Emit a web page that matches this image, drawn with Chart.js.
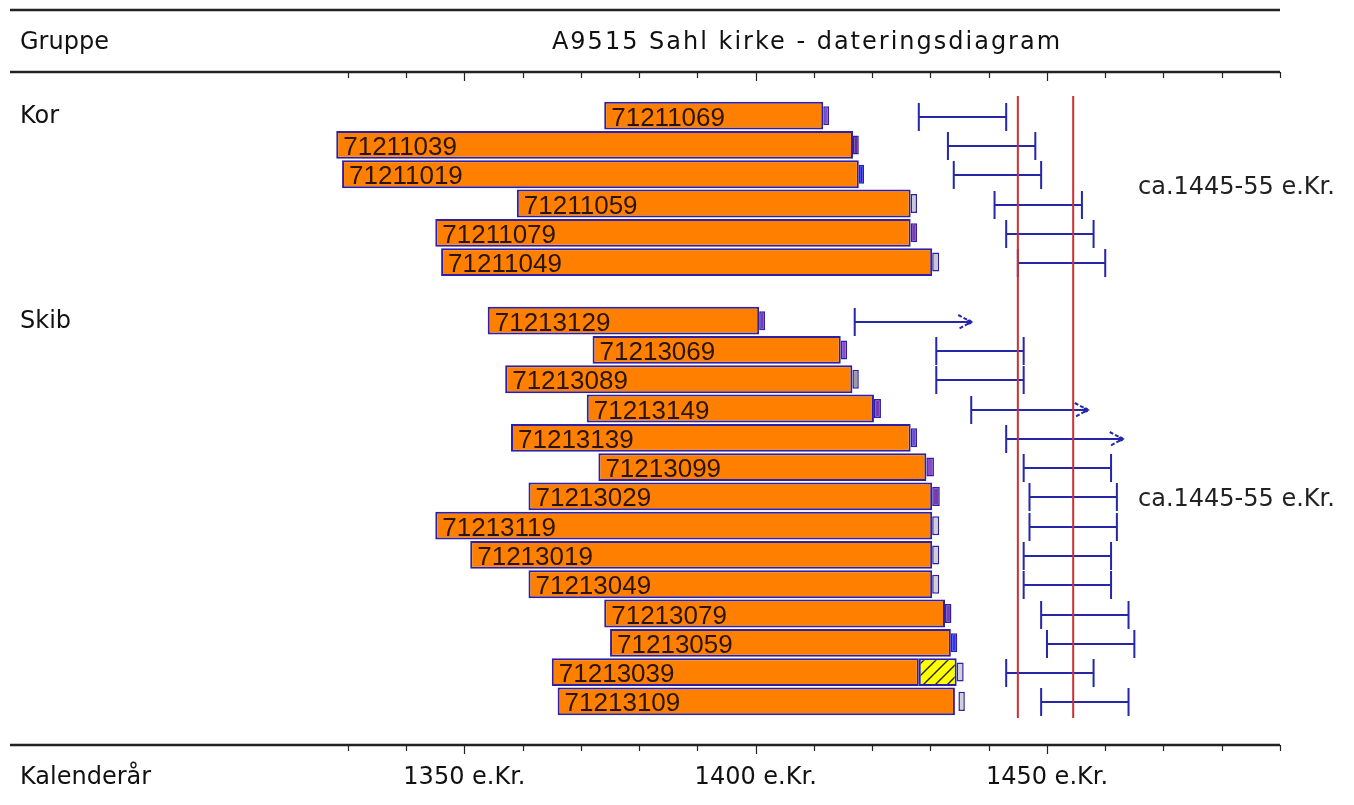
<!DOCTYPE html>
<html lang="da">
<head>
<meta charset="utf-8">
<title>A9515 Sahl kirke - dateringsdiagram</title>
<script src="https://cdn.jsdelivr.net/npm/chart.js@4.4.1/dist/chart.umd.min.js"></script>
<style>
  html, body { margin: 0; padding: 0; background: #fff; }
  #wrap { width: 1354px; height: 805px; position: relative; }
</style>
</head>
<body>
<div id="wrap"><canvas id="chart" width="1354" height="805"></canvas></div>
<script>
/* ═══════════════════════════════════════════════
   DATA  —  one row per sample, '' = gap between groups
═══════════════════════════════════════════════ */
const samples = [
  '71211069', '71211039', '71211019', '71211059', '71211079', '71211049',
  '',
  '71213129', '71213069', '71213089', '71213149', '71213139', '71213099', '71213029',
  '71213119', '71213019', '71213049', '71213079', '71213059', '71213039', '71213109'
];

/* first and last measured year (orange bar) */
const firstYear = [1374, 1328, 1329, 1359, 1345, 1346, null,
  1354, 1372, 1357, 1371, 1358, 1373, 1361, 1345, 1351, 1361, 1374, 1375, 1365, 1366];
const lastYear  = [1411.6, 1416.7, 1417.7, 1426.6, 1426.6, 1430.3, null,
  1400.6, 1414.6, 1416.6, 1420.3, 1426.6, 1429.3, 1430.3, 1430.3, 1430.3, 1430.3,
  1432.5, 1433.5, 1428, 1434.2];

/* estimated (hatched) rings after last measured year */
const estFrom = [null, null, null, null, null, null, null,
  null, null, null, null, null, null, null, null, null, null, null, null, 1428, null];
const estTo   = [null, null, null, null, null, null, null,
  null, null, null, null, null, null, null, null, null, null, null, null, 1434.5, null];

/* end marker (small box after the bar) */
const markFrom = [1411.6, 1416.7, 1417.7, 1426.6, 1426.6, 1430.3, null,
  1400.6, 1414.6, 1416.6, 1420.3, 1426.6, 1429.3, 1430.3, 1430.3, 1430.3, 1430.3,
  1432.5, 1433.5, 1434.5, 1434.8];
const markTo   = [1412.6, 1417.7, 1418.6, 1427.7, 1427.7, 1431.5, null,
  1401.6, 1415.7, 1417.7, 1421.5, 1427.7, 1430.6, 1431.6, 1431.5, 1431.5, 1431.5,
  1433.6, 1434.6, 1435.7, 1435.9];

/* felling date interval; open = only a lower limit (arrow) */
const fellFrom = [1428, 1433, 1434, 1441, 1443, 1445, null,
  1417, 1431, 1431, 1437, 1443, 1446, 1447, 1447, 1446, 1446, 1449, 1450, 1443, 1449];
const fellTo   = [1443, 1448, 1449, 1456, 1458, 1460, null,
  1437, 1446, 1446, 1457, 1463, 1461, 1462, 1462, 1461, 1461, 1464, 1465, 1458, 1464];
const fellOpen = [false, false, false, false, false, false, false,
  true, false, false, true, true, false, false, false, false, false, false, false, false, false];

/* groups */
const groupNames  = ['Kor', 'Skib'];
const groupFirst  = [0, 7];
const groupDating = ['ca.1445-55 e.Kr.', 'ca.1445-55 e.Kr.'];

/* dating lines */
const datingLines = [1445, 1454.5];

/* axis */
const tickYears  = [1330, 1340, 1350, 1360, 1370, 1380, 1390, 1400, 1410,
  1420, 1430, 1440, 1450, 1460, 1470, 1480, 1490];
const labelYears = [1350, 1400, 1450];
const labelTexts = ['1350 e.Kr.', '1400 e.Kr.', '1450 e.Kr.'];

/* ── STYLE ── */
const ORANGE = '#ff8000';
const EDGE   = '#2c1fa8';
const RANGE  = '#2626a8';
const RED    = '#cc3030';
const HEAD   = '24px "DejaVu Sans"';
const markColors = ['#8a4cc8', '#6a2a90', '#1a1aff', '#c8c8d4', '#7a3ab0', '#c8c8d4', null,
  '#7a3ab0', '#8a4cc8', '#9a9aa8', '#7a3ab0', '#6a4ad0', '#8a4cc8', '#7a3ab0',
  '#d0d0d8', '#d0d0d8', '#d0d0d8', '#7a3ab0', '#3030ff', '#d0d0d8', '#d0d0d8'];

/* hatch pattern for estimated rings */
function hatchPattern() {
  const c = document.createElement('canvas');
  c.width = 12; c.height = 12;
  const g = c.getContext('2d');
  g.fillStyle = '#ffff00';
  g.fillRect(0, 0, 12, 12);
  g.strokeStyle = '#222';
  g.lineWidth = 1.4;
  g.beginPath();
  g.moveTo(0, 12); g.lineTo(12, 0);
  g.moveTo(-6, 6); g.lineTo(6, -6);
  g.moveTo(6, 18); g.lineTo(18, 6);
  g.stroke();
  return g.createPattern(c, 'repeat');
}

const pairs = (a, b) => a.map((v, i) => (v == null ? null : [v, b[i]]));

/* ═══════════════════════════════════════════════
   DRAWING PLUGIN  —  rules, texts, ranges
═══════════════════════════════════════════════ */
const diagram = {
  id: 'diagram',
  beforeDatasetsDraw(chart) {
    const ctx = chart.ctx;
    const x = chart.scales.x, y = chart.scales.y;
    const left = x.left, right = x.right;

    ctx.save();
    /* rules */
    [10, 72, 745].forEach(ry => {
      ctx.strokeStyle = '#222';
      ctx.lineWidth = 2.5;
      ctx.beginPath(); ctx.moveTo(left, ry); ctx.lineTo(right, ry); ctx.stroke();
    });
    /* ticks */
    ctx.lineWidth = 1.2;
    [72, 745].forEach(ry => {
      tickYears.forEach(t => {
        const px = Math.round(x.getPixelForValue(t)) + 0.5;
        const len = labelYears.includes(t) ? 9 : 6;
        ctx.beginPath(); ctx.moveTo(px, ry); ctx.lineTo(px, ry + len); ctx.stroke();
      });
    });

    /* header / footer texts */
    ctx.fillStyle = '#111';
    ctx.font = HEAD;
    ctx.textBaseline = 'middle';
    ctx.textAlign = 'left';
    ctx.fillText('Gruppe', 20, 43);
    ctx.fillText('Kalenderår', 20, 778);
    ctx.textAlign = 'center';
    labelYears.forEach((t, i) => ctx.fillText(labelTexts[i], x.getPixelForValue(t), 778));
    ctx.letterSpacing = '2px';
    ctx.fillText('A9515 Sahl kirke - dateringsdiagram', 807, 43);
    ctx.letterSpacing = '0px';

    /* group names + dating */
    ctx.textAlign = 'left';
    groupNames.forEach((g, i) => ctx.fillText(g, 20, y.getPixelForValue(groupFirst[i]) + 1));
    ctx.font = '24px "DejaVu Sans"';
    ctx.fillStyle = '#222';
    const datingRows = [2.45, 13.1];
    groupDating.forEach((d, i) => ctx.fillText(d, 1138, y.getPixelForValue(datingRows[i])));

    /* felling ranges */
    ctx.strokeStyle = RANGE;
    ctx.lineWidth = 2;
    fellFrom.forEach((f, i) => {
      if (f == null) return;
      const yc = Math.round(y.getPixelForValue(i)) + 1;
      const x0 = x.getPixelForValue(f), x1 = x.getPixelForValue(fellTo[i]);
      ctx.setLineDash([]);
      ctx.beginPath();
      ctx.moveTo(x0, yc - 14); ctx.lineTo(x0, yc + 14);
      ctx.moveTo(x0, yc); ctx.lineTo(x1, yc);
      if (!fellOpen[i]) { ctx.moveTo(x1, yc - 14); ctx.lineTo(x1, yc + 14); }
      ctx.stroke();
      if (fellOpen[i]) {
        ctx.setLineDash([4, 2]);
        ctx.beginPath();
        ctx.moveTo(x1 - 13, yc - 7); ctx.lineTo(x1, yc); ctx.lineTo(x1 - 13, yc + 7);
        ctx.stroke();
        ctx.setLineDash([]);
        ctx.fillStyle = RANGE;
        ctx.beginPath(); ctx.arc(x1 - 2, yc, 2.5, 0, Math.PI * 2); ctx.fill();
      }
    });

    /* dating lines */
    ctx.strokeStyle = RED;
    ctx.lineWidth = 2;
    datingLines.forEach(d => {
      const px = x.getPixelForValue(d);
      ctx.beginPath(); ctx.moveTo(px, 96); ctx.lineTo(px, 718); ctx.stroke();
    });
    ctx.restore();
  },
  afterDatasetsDraw(chart) {
    const ctx = chart.ctx;
    const x = chart.scales.x, y = chart.scales.y;
    ctx.save();
    ctx.font = '26px "Liberation Sans"';
    ctx.fillStyle = '#2a1508';
    ctx.textAlign = 'left';
    ctx.textBaseline = 'alphabetic';
    samples.forEach((s, i) => {
      if (!s) return;
      ctx.fillText(s, x.getPixelForValue(firstYear[i]) + 7, y.getPixelForValue(i) + 10);
    });
    ctx.restore();
  }
};

/* ═══════════════════════════════════════════════
   CHART
═══════════════════════════════════════════════ */
new Chart(document.getElementById('chart').getContext('2d'), {
  type: 'bar',
  data: {
    labels: samples,
    datasets: [
      {
        label: 'Målt',
        data: pairs(firstYear, lastYear),
        backgroundColor: ORANGE,
        borderColor: EDGE,
        borderWidth: 2,
        borderSkipped: false,
        categoryPercentage: 1,
        barPercentage: 0.95,
        grouped: false
      },
      {
        label: 'Estimeret',
        data: pairs(estFrom, estTo),
        backgroundColor: hatchPattern(),
        borderColor: EDGE,
        borderWidth: 2,
        borderSkipped: false,
        categoryPercentage: 1,
        barPercentage: 0.95,
        grouped: false
      },
      {
        label: 'Splint',
        data: pairs(markFrom, markTo),
        backgroundColor: markColors,
        borderColor: EDGE,
        borderWidth: 1.5,
        borderSkipped: false,
        categoryPercentage: 1,
        barPercentage: 0.65,
        grouped: false
      }
    ]
  },
  options: {
    indexAxis: 'y',
    responsive: false,
    animation: false,
    layout: { padding: { left: 10, right: 74, top: 101, bottom: 89 } },
    plugins: { legend: { display: false }, tooltip: { enabled: false } },
    scales: {
      x: { type: 'linear', min: 1272, max: 1490, display: false },
      y: { type: 'category', display: false, offset: true }
    }
  },
  plugins: [diagram]
});
</script>
</body>
</html>
